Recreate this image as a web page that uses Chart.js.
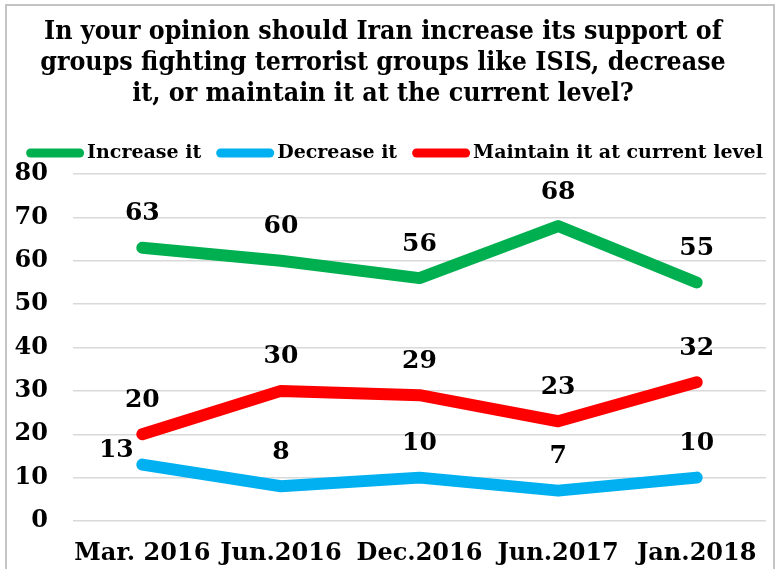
<!DOCTYPE html>
<html lang="en">
<head>
    <meta charset="UTF-8">
    <meta name="viewport" content="width=device-width, initial-scale=1.0">
    <title>Support for groups fighting ISIS</title>
    <style>
        body {
            margin: 0;
            background: #ffffff;
        }
        #wrap {
            position: relative;
            width: 777px;
            height: 569px;
        }
        #frame {
            position: absolute;
            left: 5px;
            top: 4px;
            width: 766px;
            height: 570px;
            border: 2px solid #c4c4c4;
            pointer-events: none;
        }
    </style>
</head>
<body>
    <div id="wrap">
        <canvas id="surveyChart" width="777" height="569"></canvas>
        <div id="frame"></div>
    </div>

    <script src="https://cdn.jsdelivr.net/npm/chart.js"></script>
    <script>
        const surveyDates = ['Mar. 2016', 'Jun.2016', 'Dec.2016', 'Jun.2017', 'Jan.2018'];
        const increaseIt = [63, 60, 56, 68, 55];
        const decreaseIt = [13, 8, 10, 7, 10];
        const maintainIt = [20, 30, 29, 23, 32];
        const yTicks = [0, 10, 20, 30, 40, 50, 60, 70, 80];

        const serif = '"DejaVu Serif", Georgia, serif';

        // Writes each point's value above it (or to its left where lines crowd)
        const valueLabels = {
            id: 'valueLabels',
            afterDatasetsDraw(chart) {
                const ctx = chart.ctx;
                ctx.save();
                ctx.font = 'bold 25px ' + serif;
                ctx.fillStyle = '#000000';
                ctx.textAlign = 'center';
                ctx.textBaseline = 'middle';
                chart.data.datasets.forEach((ds, i) => {
                    const meta = chart.getDatasetMeta(i);
                    meta.data.forEach((pt, j) => {
                        const side = ds.labelSide ? ds.labelSide[j] : 'top';
                        let x = pt.x;
                        let y = pt.y - 34;
                        if (side === 'left') {
                            x = pt.x - 26;
                            y = pt.y - 14;
                        }
                        ctx.fillText(ds.data[j], x, y);
                    });
                });
                ctx.restore();
            }
        };

        // Compact one-row legend: thick rounded swatch, then the label right next to it.
        // Drawn in the gap left under the title (title padding reserves the room).
        const lineLegend = {
            id: 'lineLegend',
            afterDraw(chart) {
                const ctx = chart.ctx;
                const swatchW = 58, swatchH = 9, textGap = 3, itemGap = 15;
                const rowY = 153;
                ctx.save();
                ctx.font = 'bold 19px ' + serif;
                ctx.textBaseline = 'middle';
                ctx.textAlign = 'left';
                const items = chart.data.datasets.map(ds => ({
                    text: ds.label,
                    color: ds.borderColor,
                    width: swatchW + textGap + ctx.measureText(ds.label).width
                }));
                const total = items.reduce((s, it) => s + it.width, 0) + itemGap * (items.length - 1);
                let x = chart.width / 2 + 6 - total / 2;
                items.forEach(it => {
                    ctx.fillStyle = it.color;
                    ctx.beginPath();
                    ctx.roundRect(x, rowY - swatchH / 2, swatchW, swatchH, swatchH / 2);
                    ctx.fill();
                    ctx.fillStyle = '#000000';
                    ctx.fillText(it.text, x + swatchW + textGap, rowY);
                    x += it.width + itemGap;
                });
                ctx.restore();
            }
        };

        function series(label, data, color) {
            return {
                label: label,
                data: data,
                borderColor: color,
                backgroundColor: color,
                borderWidth: 12,
                borderCapStyle: 'round',
                borderJoinStyle: 'round',
                pointRadius: 0,
                tension: 0
            };
        }

        const datasets = [
            series('Increase it', increaseIt, '#00b050'),
            series('Decrease it', decreaseIt, '#00b0f0'),
            series('Maintain it at current level', maintainIt, '#ff0000')
        ];
        datasets[1].labelSide = ['left', 'top', 'top', 'top', 'top'];

        const ctx = document.getElementById('surveyChart').getContext('2d');
        new Chart(ctx, {
            type: 'line',
            data: {
                labels: surveyDates,
                datasets: datasets
            },
            options: {
                responsive: false,
                animation: false,
                layout: {
                    padding: { left: 0, right: 11, top: 0, bottom: 0 }
                },
                plugins: {
                    title: {
                        display: true,
                        text: [
                            'In your opinion should Iran increase its support of',
                            'groups fighting terrorist groups like ISIS, decrease',
                            'it, or maintain it at the current level?'
                        ],
                        color: '#000000',
                        font: {
                            family: '"DejaVu Serif Condensed", ' + serif,
                            size: 26.5,
                            weight: 'bold',
                            lineHeight: 1.17
                        },
                        padding: { top: 16.5, bottom: 64.5 }
                    },
                    legend: { display: false },
                    tooltip: { enabled: false }
                },
                scales: {
                    x: {
                        offset: true,
                        grid: { display: false, drawTicks: false },
                        border: { display: false },
                        ticks: {
                            color: '#000000',
                            font: { family: serif, size: 24, weight: 'bold' },
                            padding: 18,
                            maxRotation: 0,
                            autoSkip: false
                        },
                        afterFit(scale) {
                            scale.height = 48;
                        }
                    },
                    y: {
                        min: yTicks[0],
                        max: yTicks[yTicks.length - 1],
                        afterBuildTicks(scale) {
                            scale.ticks = yTicks.map(v => ({ value: v }));
                        },
                        grid: { color: '#d9d9d9', lineWidth: 1.5, drawTicks: false },
                        border: { display: false },
                        ticks: {
                            color: '#000000',
                            font: { family: serif, size: 24, weight: 'bold' },
                            padding: 25
                        },
                        afterFit(scale) {
                            scale.width = 73;
                        }
                    }
                }
            },
            plugins: [valueLabels, lineLegend]
        });
    </script>
</body>
</html>
